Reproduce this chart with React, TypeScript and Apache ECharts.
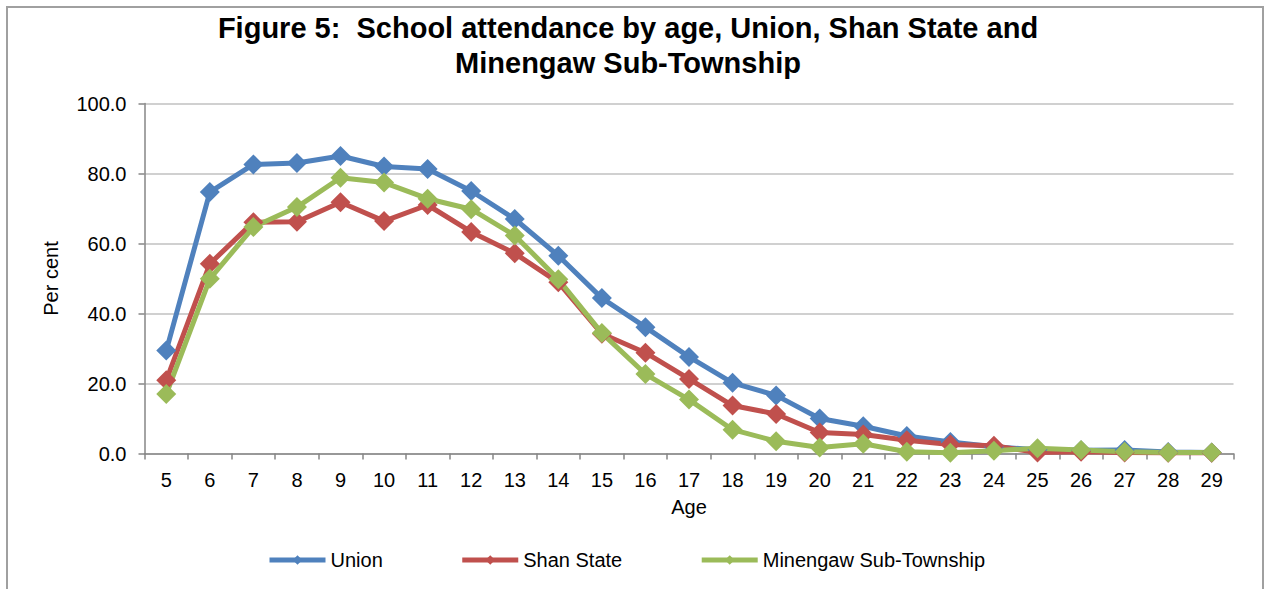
import React, { useEffect, useRef } from "react";
import * as echarts from "echarts";

const ages = ["5","6","7","8","9","10","11","12","13","14","15","16","17","18","19","20","21","22","23","24","25","26","27","28","29"];
const union = [29.4, 74.7, 82.6, 83.0, 85.0, 82.0, 81.3, 75.0, 67.0, 56.5, 44.4, 36.1, 27.6, 20.2, 16.6, 10.0, 7.8, 5.0, 3.3, 1.9, 1.1, 0.9, 1.0, 0.4, 0.3];
const shanState = [20.9, 54.2, 66.1, 66.2, 71.8, 66.4, 71.0, 63.3, 57.2, 48.9, 34.2, 28.8, 21.3, 13.7, 11.3, 6.0, 5.4, 3.8, 2.6, 2.2, 0.3, 0.5, 0.3, 0.2, 0.2];
const minengaw = [17.0, 49.9, 64.7, 70.4, 78.8, 77.4, 72.8, 69.8, 62.3, 49.8, 34.4, 22.7, 15.4, 6.8, 3.5, 1.7, 2.8, 0.5, 0.2, 0.8, 1.5, 1.0, 0.5, 0.3, 0.3];
const seriesNames = ["Union", "Shan State", "Minengaw Sub-Township"];
const colors = ["#4F81BD", "#C0504D", "#9BBB59"];
const titleText = "Figure 5:  School attendance by age, Union, Shan State and\nMinengaw Sub-Township";

const FONT = "'Liberation Sans', Arial, sans-serif";

export default function App() {
  const ref = useRef<HTMLDivElement>(null);
  useEffect(() => {
    if (!ref.current) return;
    const chart = echarts.init(ref.current, null, { renderer: "svg" });
    const values = [union, shanState, minengaw];
    chart.setOption({
      animation: false,
      backgroundColor: "#ffffff",
      textStyle: { fontFamily: FONT },
      title: {
        text: titleText,
        left: 623,
        top: 5,
        textAlign: "center",
        textStyle: { fontSize: 29, fontWeight: "bold", color: "#000", lineHeight: 35, fontFamily: FONT },
      },
      legend: {
        left: 262,
        top: 545,
        itemWidth: 56,
        itemHeight: 12,
        itemGap: 77,
        lineStyle: { width: 5 },
        textStyle: { fontSize: 20, color: "#000", fontFamily: FONT },
        data: seriesNames,
      },
      grid: { left: 144.5, right: 30.5, top: 103.5, bottom: 135.5 },
      xAxis: {
        type: "category",
        data: ages,
        boundaryGap: true,
        name: "Age",
        nameLocation: "middle",
        nameGap: 43,
        nameTextStyle: { fontSize: 20, color: "#000", fontFamily: FONT },
        axisLine: { lineStyle: { color: "#868686", width: 1.5 } },
        axisTick: { show: true, length: 6, lineStyle: { color: "#868686", width: 1.5 } },
        axisLabel: { fontSize: 20, color: "#000", margin: 16, fontFamily: FONT, interval: 0 },
      },
      yAxis: {
        type: "value",
        min: 0,
        max: 100,
        interval: 20,
        name: "Per cent",
        nameLocation: "middle",
        nameGap: 84,
        nameTextStyle: { fontSize: 20, color: "#000", fontFamily: FONT },
        axisLine: { show: true, lineStyle: { color: "#868686", width: 1.5 } },
        axisTick: { show: true, length: 6, lineStyle: { color: "#868686", width: 1.5 } },
        axisLabel: { fontSize: 20, color: "#000", margin: 18, fontFamily: FONT, formatter: (v: number) => v.toFixed(1) },
        splitLine: { lineStyle: { color: "#c0c0c0", width: 1.5 } },
      },
      series: seriesNames.map((name, i) => ({
        name,
        type: "line",
        data: values[i],
        symbol: "diamond",
        symbolSize: 20,
        lineStyle: { width: 5, color: colors[i] },
        itemStyle: { color: colors[i] },
      })),
    });
    return () => chart.dispose();
  }, []);
  return (
    <>
      <div
        ref={ref}
        style={{ position: "fixed", left: 0, top: 0, width: 1264, height: 589 }}
      />
      <div
        style={{
          position: "fixed",
          left: 6,
          top: 6,
          width: 1258,
          height: 600,
          border: "2px solid #a0a0a0",
          boxSizing: "border-box",
          pointerEvents: "none",
        }}
      />
    </>
  );
}
